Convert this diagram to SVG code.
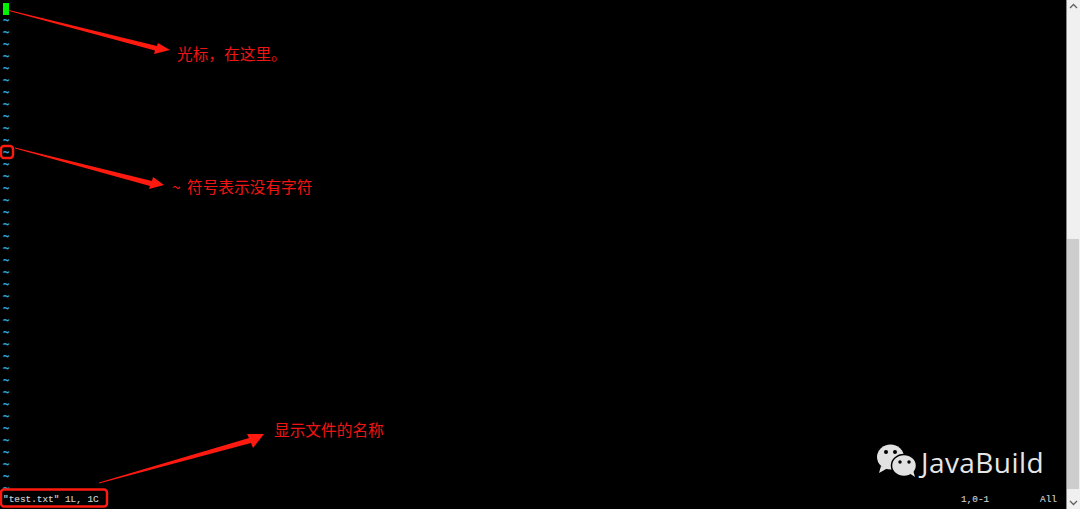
<svg xmlns="http://www.w3.org/2000/svg" width="1080" height="509" viewBox="0 0 1080 509">
<style>
.t{font-family:"Liberation Mono","DejaVu Sans Mono",monospace;font-size:10.500px;fill:#2fa8dc;font-weight:bold;stroke:#2fa8dc;stroke-width:.3}
.m{font-family:"Liberation Mono","DejaVu Sans Mono",monospace;font-size:9.400px;fill:#cfcfcf;stroke:#cfcfcf;stroke-width:.15}
.a{font-family:"Noto Sans CJK SC","Noto Sans",sans-serif;font-size:15.700px;fill:#f01414}
.r{fill:none;stroke:#ff1a10;stroke-width:2.400}
.h{fill:#ff1a10}
</style>
<rect width="1080" height="509" fill="#000"/>
<g id="scrollbar">
<rect x="1066" width="14" height="509" fill="#f0f0f0"/>
<rect x="1066" width="1" height="509" fill="#8a8a8a"/>
<rect x="1067" y="239" width="12" height="250" fill="#cdcdcd"/>
<path d="M1070 8L1073.500 4.500L1077 8" fill="none" stroke="#606060" stroke-width="1.300"/>
<path d="M1070 501L1073.500 504.500L1077 501" fill="none" stroke="#606060" stroke-width="1.300"/>
</g>
<g id="tildes">
<text class="t" x="3" y="24">~</text><text class="t" x="3" y="36">~</text><text class="t" x="3" y="48">~</text><text class="t" x="3" y="60">~</text><text class="t" x="3" y="72">~</text><text class="t" x="3" y="84">~</text><text class="t" x="3" y="96">~</text><text class="t" x="3" y="108">~</text><text class="t" x="3" y="120">~</text><text class="t" x="3" y="132">~</text><text class="t" x="3" y="144">~</text><text class="t" x="3" y="156">~</text><text class="t" x="3" y="168">~</text><text class="t" x="3" y="180">~</text><text class="t" x="3" y="192">~</text><text class="t" x="3" y="204">~</text><text class="t" x="3" y="216">~</text><text class="t" x="3" y="228">~</text><text class="t" x="3" y="240">~</text><text class="t" x="3" y="252">~</text><text class="t" x="3" y="264">~</text><text class="t" x="3" y="276">~</text><text class="t" x="3" y="288">~</text><text class="t" x="3" y="300">~</text><text class="t" x="3" y="312">~</text><text class="t" x="3" y="324">~</text><text class="t" x="3" y="336">~</text><text class="t" x="3" y="348">~</text><text class="t" x="3" y="360">~</text><text class="t" x="3" y="372">~</text><text class="t" x="3" y="384">~</text><text class="t" x="3" y="396">~</text><text class="t" x="3" y="408">~</text><text class="t" x="3" y="420">~</text><text class="t" x="3" y="432">~</text><text class="t" x="3" y="444">~</text><text class="t" x="3" y="456">~</text><text class="t" x="3" y="468">~</text><text class="t" x="3" y="480">~</text><text class="t" x="3" y="492">~</text>
</g>
<g id="cursor"><rect x="3" y="3" width="6" height="12" fill="#00f000"/></g>
<g id="tilde-box"><rect class="r" x="1" y="146" width="12" height="12" rx="3"/></g>
<g id="status-box">
<text class="m" x="3" y="502">"test.txt" 1L, 1C</text>
<rect class="r" x="1" y="489.500" width="106" height="17" rx="3"/>
</g>
<g id="status-right">
<text class="m" x="961" y="502">1,0-1</text>
<text class="m" x="1040" y="502">All</text>
</g>
<g id="connectors">
<path class="h" d="M9 10L9 11L155 50.500L154 54L170 50L158 43L157 46Z"/>
<path class="h" d="M15 147.500L15 148.500L150 186L149 189L164 185L153 177L152 181Z"/>
<path class="h" d="M99 482.500L99 483.500L251 443L253 448L264 434L247 434L249 438Z"/>
</g>
<g id="label-cursor"><text class="a" x="177" y="60">光标，在这里。</text></g>
<g id="label-tilde"><text class="a" x="172" y="193">~ <tspan x="187">符号表示没有字符</tspan></text></g>
<g id="label-file"><text class="a" x="274" y="436">显示文件的名称</text></g>
<g id="watermark">
<ellipse cx="890.500" cy="457" rx="13.500" ry="12.500" fill="#e2e2e2"/>
<path fill="#e2e2e2" d="M881 466L879 473L888 468Z"/>
<ellipse cx="904" cy="465.500" rx="12.500" ry="11" fill="#e2e2e2" stroke="#000" stroke-width="1.500"/>
<path fill="#e2e2e2" d="M909 473L915 477L913 470Z"/>
<circle cx="886" cy="452" r="2" fill="#000"/><circle cx="895" cy="452" r="2" fill="#000"/>
<circle cx="900" cy="462" r="1.700" fill="#000"/><circle cx="909" cy="462" r="1.700" fill="#000"/>
<text x="921" y="473" font-family="'Open Sans','Noto Sans',sans-serif" font-size="28" fill="#e6e6e6" letter-spacing=".42">JavaBuild</text>
</g>
</svg>
